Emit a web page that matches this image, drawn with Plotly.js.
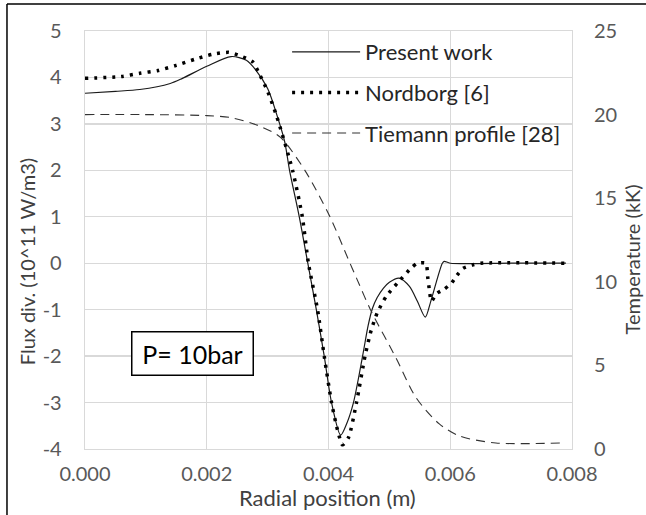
<!DOCTYPE html>
<html>
<head>
<meta charset="utf-8">
<script src="https://cdn.plot.ly/plotly-3.0.1.min.js"></script>
<style>html,body{margin:0;padding:0;background:#fff;}#chart{width:646px;height:515px;}</style>
</head>
<body>
<div id="chart"></div>
<script>
// Present work (flux divergence, 10^11 W/m3)
const presentX = [0, 0.0005, 0.0009, 0.0014, 0.0016, 0.0020, 0.0024, 0.00265, 0.0028, 0.0030, 0.00315, 0.00328, 0.00336, 0.00352, 0.00366, 0.0038, 0.00393, 0.00405, 0.0042, 0.0043, 0.00441, 0.00456, 0.00465, 0.00472, 0.0048, 0.0049, 0.005, 0.00516, 0.00533, 0.00546, 0.00559, 0.00568, 0.00579, 0.00587, 0.0059, 0.006, 0.007, 0.0079];
const presentY = [3.66, 3.70, 3.74, 3.87, 3.98, 4.24, 4.45, 4.37, 4.17, 3.76, 3.20, 2.62, 2.00, 1.00, 0.00, -1.00, -2.00, -3.00, -3.70, -3.45, -3.00, -2.00, -1.35, -0.98, -0.74, -0.54, -0.41, -0.32, -0.50, -0.82, -1.16, -0.82, -0.32, 0.00, 0.04, 0, 0, 0];

// Nordborg [6] (flux divergence, 10^11 W/m3)
const nordX = [0, 0.0006, 0.0009, 0.0012, 0.0015, 0.0018, 0.0021, 0.00236, 0.00254, 0.00275, 0.00287, 0.0030, 0.00315, 0.00341, 0.00357, 0.00367, 0.00382, 0.00393, 0.00405, 0.00415, 0.00423, 0.00433, 0.00446, 0.0046, 0.0047, 0.0048, 0.00495, 0.00513, 0.00536, 0.00546, 0.0056, 0.00563, 0.00566, 0.00569, 0.00578, 0.0059, 0.00602, 0.00611, 0.00621, 0.00636, 0.0065, 0.0079];
const nordY = [3.98, 4.02, 4.09, 4.15, 4.26, 4.39, 4.50, 4.54, 4.47, 4.34, 4.06, 3.70, 3.16, 2.00, 1.00, 0.00, -1.00, -2.00, -3.00, -3.60, -3.91, -3.75, -3.00, -2.00, -1.45, -1.07, -0.71, -0.43, -0.10, 0, 0, -0.30, -0.60, -0.82, -0.65, -0.56, -0.43, -0.26, -0.11, -0.04, 0, 0];

// Tiemann profile [28] (temperature, kK)
const tiemannX = [0, 0.001, 0.002, 0.00238, 0.00275, 0.00287, 0.00315, 0.00328, 0.00364, 0.00402, 0.00434, 0.00446, 0.0047, 0.00511, 0.00544, 0.00582, 0.00615, 0.00675, 0.0078];
const tiemannT = [20.0, 20.0, 19.94, 19.83, 19.47, 19.31, 18.81, 18.39, 16.5, 13.92, 11.22, 10.22, 8.25, 5.44, 3.06, 1.5, 0.78, 0.36, 0.36];

const xTicks = [0, 0.002, 0.004, 0.006, 0.008];
const xTickText = ['0.000', '0.002', '0.004', '0.006', '0.008'];
const yTicks = [-4, -3, -2, -1, 0, 1, 2, 3, 4, 5];
const yTickText = ['-4', '-3', '-2', '-1', '0', '1', '2', '3', '4', '5'];
const y2Ticks = [0, 5, 10, 15, 20, 25];
const y2TickText = ['0', '5', '10', '15', '20', '25'];

const FONT = 'Lato, "Open Sans", sans-serif';
const GRAY = '#595959';
const TITLE = '#404040';
const GRID = '#d9d9d9';

const traces = [
  {x: presentX, y: presentY, name: 'Present work', mode: 'lines', legendgroup: 'a',
   line: {color: '#1a1a1a', width: 1.2, shape: 'spline', smoothing: 0.8}},
  {x: nordX, y: nordY, name: 'Nordborg [6]', mode: 'lines', legendgroup: 'b',
   line: {color: '#000', width: 3.5, dash: '3px,6px', shape: 'spline', smoothing: 0.6}},
  {x: tiemannX, y: tiemannT, name: 'Tiemann profile [28]', mode: 'lines', legendgroup: 'c', yaxis: 'y2',
   line: {color: '#333', width: 1.1, dash: '9px,6px', shape: 'spline', smoothing: 0.8}}
];

const layout = {
  width: 646, height: 515,
  margin: {l: 85, r: 74, t: 31, b: 66},
  paper_bgcolor: '#fff', plot_bgcolor: '#fff',
  font: {family: FONT, color: GRAY},
  showlegend: true,
  legend: {x: 0.415, y: 1.0, xanchor: 'left', yanchor: 'top', bgcolor: 'rgba(0,0,0,0)',
    itemwidth: 68, tracegroupgap: 9, font: {family: FONT, size: 22, color: '#262626'}},
  xaxis: {range: [0, 0.008], tickvals: xTicks, ticktext: xTickText,
    showgrid: true, gridcolor: GRID, gridwidth: 1.3, zeroline: false,
    showline: true, linecolor: GRID, linewidth: 1.3, mirror: true,
    ticks: 'outside', ticklen: 7, tickcolor: 'rgba(0,0,0,0)',
    tickfont: {family: FONT, size: 20, color: GRAY}},
  yaxis: {range: [-4, 5], tickvals: yTicks, ticktext: yTickText,
    showgrid: true, gridcolor: GRID, gridwidth: 1.3, zeroline: false,
    showline: true, linecolor: GRID, linewidth: 1.3, mirror: true,
    ticks: 'outside', ticklen: 18, tickcolor: 'rgba(0,0,0,0)',
    tickfont: {family: FONT, size: 20, color: GRAY}},
  yaxis2: {range: [0, 25], tickvals: y2Ticks, ticktext: y2TickText, overlaying: 'y', side: 'right',
    showgrid: false, zeroline: false,
    ticks: 'outside', ticklen: 17, tickcolor: 'rgba(0,0,0,0)',
    tickfont: {family: FONT, size: 20, color: GRAY}},
  annotations: [
    {x: 0.497, y: -0.115, xref: 'paper', yref: 'paper', text: 'Radial position (m)', showarrow: false,
     xanchor: 'center', yanchor: 'middle', font: {family: FONT, size: 22, color: TITLE}},
    {x: -0.119, y: 0.447, xref: 'paper', yref: 'paper', text: 'Flux div. (10^11 W/m3)', showarrow: false,
     textangle: -90, xanchor: 'center', yanchor: 'middle', font: {family: FONT, size: 20, color: TITLE}},
    {x: 1.124, y: 0.4545, xref: 'paper', yref: 'paper', text: 'Temperature (kK)', showarrow: false,
     textangle: -90, xanchor: 'center', yanchor: 'middle', font: {family: FONT, size: 20, color: TITLE}},
    {x: 0.00177, y: -1.935, xref: 'x', yref: 'y', text: 'P= 10bar', showarrow: false,
     font: {family: FONT, size: 25, color: '#000'}, bgcolor: '#fff',
     bordercolor: '#000', borderwidth: 1.5, borderpad: 3, width: 114, height: 36}
  ],
  shapes: [
    {type: 'line', xref: 'paper', yref: 'paper', x0: -0.1602, x1: -0.1602, y0: 1.0646, y1: -0.2, line: {color: '#000', width: 1.5}},
    {type: 'line', xref: 'paper', yref: 'paper', x0: -0.1602, x1: 1.2, y0: 1.0646, y1: 1.0646, line: {color: '#000', width: 1.5}}
  ]
};

Plotly.newPlot('chart', traces, layout, {staticPlot: true, displayModeBar: false});
</script>
</body>
</html>
